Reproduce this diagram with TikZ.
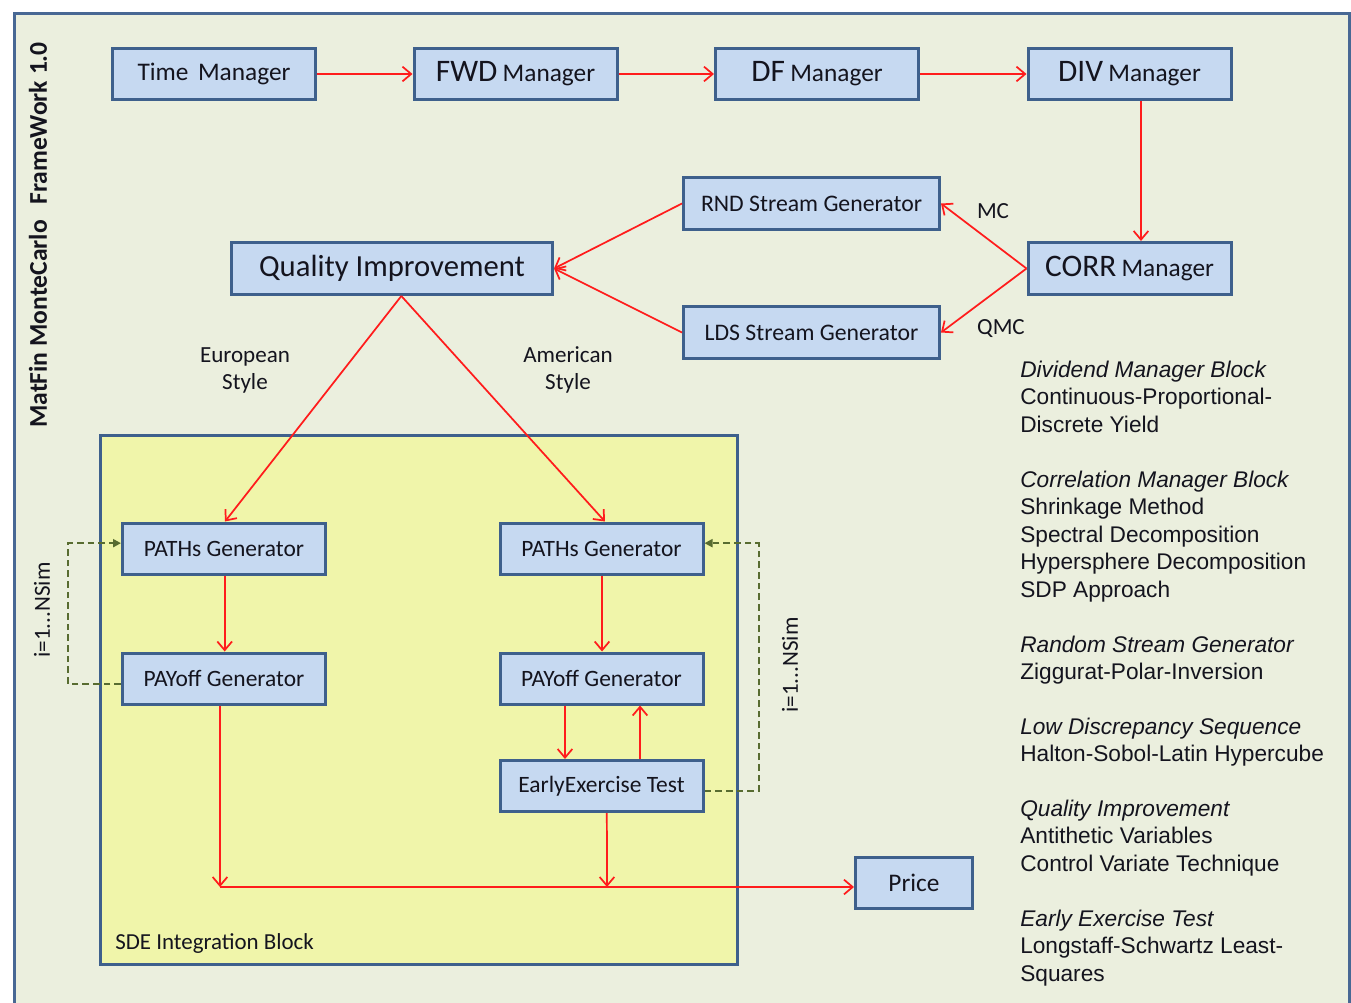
\documentclass[tikz,border=0pt]{standalone}
\usepackage{fontspec}
\setmainfont{Carlito}
\newfontfamily\arialf{Liberation Sans}
\usetikzlibrary{arrows.meta}
\definecolor{bgc}{RGB}{235,239,222}
\definecolor{framec}{RGB}{72,104,148}
\definecolor{boxfill}{RGB}{198,217,241}
\definecolor{boxline}{RGB}{62,96,140}
\definecolor{sdefill}{RGB}{240,245,170}
\definecolor{redc}{RGB}{255,28,28}
\definecolor{olivec}{RGB}{88,108,48}
\definecolor{txtc}{RGB}{20,20,30}
\tikzset{
  blk/.style={draw=boxline, fill=boxfill, line width=2.25pt, inner sep=0pt,
     minimum width=152.25pt, minimum height=38.25pt, text=txtc,
     font=\fontsize{17.6}{20}\selectfont},
  rarr/.style={draw=redc, line width=1.3pt, -{Straight Barb[length=6.5pt,width=11pt,line width=1.3pt]}},
  loop/.style={draw=olivec, line width=1.5pt, dash pattern=on 5pt off 3pt,
     -{Triangle[length=6pt,width=6pt]}},
  lbl/.style={font=\fontsize{17.3}{20.25}\selectfont, text=txtc, align=center, inner sep=0pt},
  side/.style={font=\arialf\fontsize{17}{20.6}\selectfont, text=txtc, align=left,
     anchor=north west, inner sep=0pt},
}
\begin{document}
\begin{tikzpicture}[x=0.75pt,y=-0.75pt]
\useasboundingbox (0,0) rectangle (1351,1002);
\clip (0,0) rectangle (1351,1002);
\fill[white] (0,0) rectangle (1351,1002);
\draw[draw=framec, fill=bgc, line width=2.25pt] (14,14) rectangle (1349,1020);
% SDE container
\draw[draw=boxline, fill=sdefill, line width=2.25pt] (100,435) rectangle (737,964);
\node[anchor=west, inner sep=0pt, text=txtc, font=\fontsize{17.2}{20}\selectfont] (sde) at (115,943) {SDE Integration Block};

% title
\node[rotate=90, inner sep=0pt, text=txtc, font=\bfseries\fontsize{19.2}{22}\selectfont] (title) at (38,235) {MatFin MonteCarlo\hspace{0.6em}FrameWork 1.0};

% top row
\node[blk, font=\fontsize{19}{22}\selectfont] (time) at (214,74) {\raisebox{-1.5pt}{Time\hspace{0.15em} Manager}};
\node[blk] (fwd) at (515.5,74) {\raisebox{-1.5pt}{{\fontsize{23.5}{26}\selectfont FWD} {\fontsize{19}{22}\selectfont Manager}}};
\node[blk] (df) at (817,74) {\raisebox{-1.5pt}{{\fontsize{23.5}{26}\selectfont DF} {\fontsize{19}{22}\selectfont Manager}}};
\node[blk] (div) at (1129.5,74) {\raisebox{-1.5pt}{{\fontsize{23.5}{26}\selectfont DIV} {\fontsize{19}{22}\selectfont Manager}}};

% stream generators
\node[blk, minimum width=192pt, minimum height=39pt, font=\fontsize{17.8}{20}\selectfont] (rnd) at (811.5,203.5) {RND Stream Generator};
\node[blk, minimum width=192pt, minimum height=39pt, font=\fontsize{17.8}{20}\selectfont] (lds) at (811.5,332.5) {LDS Stream Generator};
\node[blk, minimum height=39pt] (corr) at (1129.5,268.5) {\raisebox{-1.5pt}{{\fontsize{23.5}{26}\selectfont CORR} {\fontsize{19}{22}\selectfont Manager}}};
\node[blk, minimum width=240.75pt, minimum height=39pt, font=\fontsize{23}{26}\selectfont] (qi) at (392,268.5) {\raisebox{-1pt}{Quality Improvement}};

% SDE block nodes
\node[blk] (pl) at (224,548.5) {\raisebox{-1pt}{PATHs Generator}};
\node[blk] (yl) at (224,678.5) {\raisebox{-1pt}{PAYoff Generator}};
\node[blk] (pr) at (601.5,548.5) {\raisebox{-1pt}{PATHs Generator}};
\node[blk] (yr) at (601.5,678.5) {\raisebox{-1pt}{PAYoff Generator}};
\node[blk] (ee) at (601.5,786) {\raisebox{-2pt}{EarlyExercise Test}};
\node[blk, minimum width=87.75pt, font=\fontsize{19}{22}\selectfont] (price) at (914,883) {Price};

% labels
\node[lbl] (mc) at (993,211) {MC};
\node[lbl] (qmc) at (1001,329) {QMC};
\node[lbl] (eur) at (245,370) {European\\Style};
\node[lbl] (ame) at (568,370) {American\\Style};
\node[lbl, rotate=90] (nsl) at (42,610) {i=1...NSim};
\node[lbl, rotate=90] (nsr) at (790,665) {i=1...NSim};

% connectors
\draw[rarr] (time) -- (fwd);
\draw[rarr] (fwd) -- (df);
\draw[rarr] (df) -- (div);
\draw[rarr] ([xshift=8.6pt]div.south) -- ([xshift=8.6pt]corr.north);
\draw[rarr] (corr.west) -- (rnd.east);
\draw[rarr] (corr.west) -- (lds.east);
\draw[rarr] (rnd.west) -- (qi.east);
\draw[rarr] (lds.west) -- (qi.east);
\draw[rarr] ([xshift=7pt]qi.south) -- ([xshift=0.75pt]pl.north);
\draw[rarr] ([xshift=7pt]qi.south) -- ([xshift=2.6pt]pr.north);
\draw[rarr] ([xshift=0.5pt]pl.south) -- ([xshift=0.5pt]yl.north);
\draw[rarr] ([xshift=0.4pt]pr.south) -- ([xshift=0.4pt]yr.north);
\coordinate (j1) at (220,887);
\coordinate (j2) at (607,887);
\draw[rarr] ([xshift=-3pt]yl.south) -- (j1);
\draw[rarr] ([xshift=4pt]ee.south) -- (j2);
\draw[rarr] (j1) -- (j1 -| price.west);
\draw[rarr] ([xshift=-27.4pt]yr.south) -- ([xshift=-27.4pt]ee.north);
\draw[rarr] ([xshift=28.9pt]ee.north) -- ([xshift=28.9pt]yr.south);
\draw[loop] ([yshift=-4pt]yl.west) -- ++(-39.75pt,0) |- ([yshift=4pt]pl.west);
\draw[loop] ([yshift=-4pt]ee.east) -- ++(40.5pt,0) |- ([yshift=4pt]pr.east);

% side notes
\node[side] (n1) at (1020,360.5) {\textit{Dividend Manager Block}\\Continuous-Proportional-\\Discrete Yield};
\node[side] (n2) at (1020,470.5) {\textit{Correlation Manager Block}\\Shrinkage Method\\Spectral Decomposition\\Hypersphere Decomposition\\SDP Approach};
\node[side] (n3) at (1020,635.5) {\textit{Random Stream Generator}\\Ziggurat-Polar-Inversion};
\node[side] (n4) at (1020,717.5) {\textit{Low Discrepancy Sequence}\\Halton-Sobol-Latin Hypercube};
\node[side] (n5) at (1020,799.5) {\textit{Quality Improvement}\\Antithetic Variables\\Control Variate Technique};
\node[side] (n6) at (1020,909.5) {\textit{Early Exercise Test}\\Longstaff-Schwartz Least-\\Squares};
\end{tikzpicture}
\end{document}
